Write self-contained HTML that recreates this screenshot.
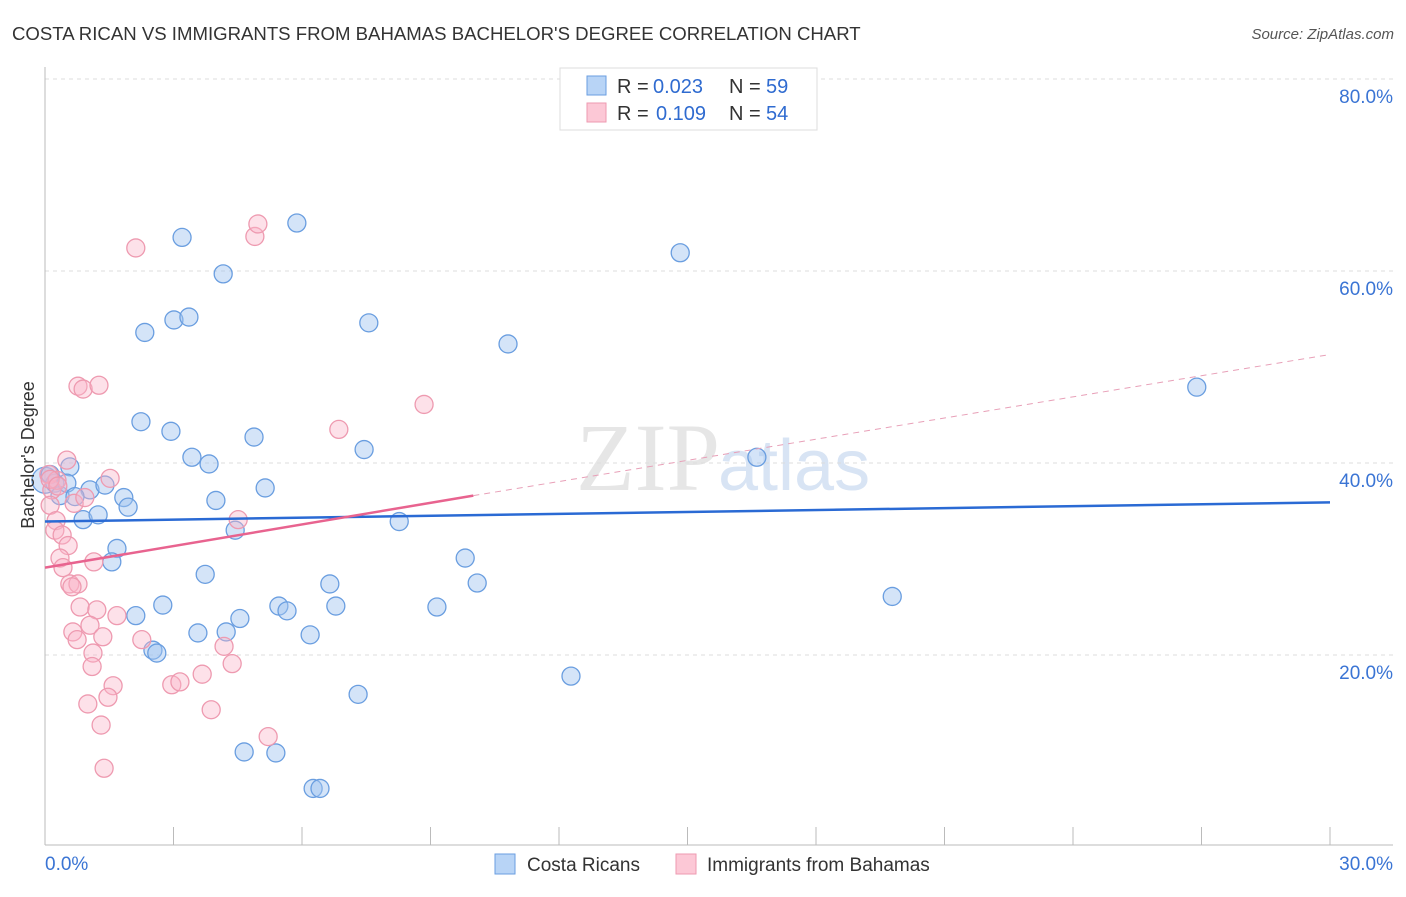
<!DOCTYPE html>
<html><head><meta charset="utf-8"><style>
body{margin:0;background:#fff;font-family:"Liberation Sans",sans-serif}
</style></head><body>
<svg width="1406" height="892" xmlns="http://www.w3.org/2000/svg" font-family="Liberation Sans, sans-serif">
<text x="12" y="40" font-size="18.6" fill="#333">COSTA RICAN VS IMMIGRANTS FROM BAHAMAS BACHELOR'S DEGREE CORRELATION CHART</text>
<text x="1394" y="39" font-size="15" fill="#555" font-style="italic" text-anchor="end">Source: ZipAtlas.com</text>
<text x="720" y="490" font-size="96" fill="#e6e6e6" text-anchor="end" font-family="Liberation Serif, serif">ZIP</text>
<text x="718" y="490" font-size="72" fill="#d8e4f4">atlas</text>
<g id="grid"></g>
<g id="axes"></g>
<g id="pts"></g>
<g id="trend"></g>
<text x="34" y="455" font-size="18" fill="#333" text-anchor="middle" transform="rotate(-90 34 455)">Bachelor's Degree</text>
<g>
<rect x="560" y="68" width="257" height="62" fill="#fff" stroke="#ddd"/>
<rect x="587" y="76" width="19" height="19" fill="#b8d4f6" stroke="#6a9ee0"/>
<rect x="587" y="103" width="19" height="19" fill="#fcc8d6" stroke="#ee9ab0"/>
<text x="617" y="93" font-size="20" fill="#333">R =</text>
<text x="653" y="93" font-size="20" fill="#2f6bd0">0.023</text>
<text x="729" y="93" font-size="20" fill="#333">N =</text>
<text x="766" y="93" font-size="20" fill="#2f6bd0">59</text>
<text x="617" y="120" font-size="20" fill="#333">R =</text>
<text x="656" y="120" font-size="20" fill="#2f6bd0">0.109</text>
<text x="729" y="120" font-size="20" fill="#333">N =</text>
<text x="766" y="120" font-size="20" fill="#2f6bd0">54</text>
</g>
<g>
<rect x="495" y="854" width="20" height="20" fill="#b8d4f6" stroke="#6a9ee0"/>
<text x="527" y="871" font-size="19" fill="#333">Costa Ricans</text>
<rect x="676" y="854" width="20" height="20" fill="#fcc8d6" stroke="#ee9ab0"/>
<text x="707" y="871" font-size="19" fill="#333">Immigrants from Bahamas</text>
</g>
</svg>
<script>
const yTicks=[20,40,60,80];
const yTickLabels=["20.0%","40.0%","60.0%","80.0%"];
const xTickLabels=["0.0%","30.0%"];
const blueX=[0,0.23,0.35,0.58,0.51,1.05,1.4,0.89,1.24,1.84,1.94,1.68,1.56,2.24,2.94,2.33,3.01,3.36,3.2,4.16,5.88,7.56,10.81,14.83,26.89,3.43,3.83,4.88,7.45,5.14,3.99,4.44,8.27,9.81,10.09,6.65,3.74,2.75,2.12,5.46,5.65,6.79,9.15,4.55,4.23,3.57,6.19,2.52,2.61,12.28,7.31,4.65,5.39,6.26,6.42,16.62,19.78,0.12,0.7];
const blueY=[38.2,37.9,36.6,39.6,37.9,37.2,37.7,34.1,34.6,36.4,35.4,31.1,29.7,44.3,43.3,53.6,54.9,55.2,63.5,59.7,65.0,54.6,52.4,61.9,47.9,40.6,39.9,42.7,41.4,37.4,36.1,33.0,33.9,30.1,27.5,27.4,28.4,25.2,24.1,25.1,24.6,25.1,25.0,23.8,22.4,22.3,22.1,20.5,20.2,17.8,15.9,9.9,9.8,6.1,6.1,40.6,26.1,38.8,36.5];
const pinkX=[0.09,0.16,0.28,0.12,0.26,0.51,0.68,0.93,1.52,0.23,0.4,0.54,0.35,0.42,0.58,0.77,0.63,1.14,0.82,1.21,1.68,0.65,0.75,1.05,1.35,2.26,1.12,1.1,4.18,4.37,3.67,2.96,3.15,1.59,1.47,1.0,1.31,3.88,5.21,1.38,2.12,4.9,4.97,0.77,0.89,1.26,6.86,8.85,4.51,0.12,0.3];
const pinkY=[38.8,37.2,38.2,35.6,34.0,40.3,35.8,36.4,38.4,33.0,32.5,31.4,30.1,29.1,27.4,27.4,27.1,29.7,25.0,24.7,24.1,22.4,21.6,23.1,21.9,21.6,20.2,18.8,20.9,19.1,18.0,16.9,17.2,16.8,15.6,14.9,12.7,14.3,11.5,8.2,62.4,63.6,64.9,48.0,47.7,48.1,43.5,46.1,34.1,38.3,37.6];
const blueTrend=[0,33.9,30,35.9];
const pinkSolid=[0,29.1,10,36.6];
const pinkDash=[10,36.6,30,51.3];
const X=v=>45+v*1285/30, Y=v=>847-v*9.6;
const NS="http://www.w3.org/2000/svg";
function mk(t,a,p){const e=document.createElementNS(NS,t);for(const k in a)e.setAttribute(k,a[k]);document.getElementById(p).appendChild(e);return e;}
yTicks.forEach((t,i)=>{
 const l=mk('line',{x1:45,x2:1393,y1:Y(t),y2:Y(t),stroke:'#ddd','stroke-dasharray':'4,4'},'grid');
 
 
 const tx=mk('text',{x:1393,y:Y(t)+24,'font-size':19,fill:'#3a74d4','text-anchor':'end'},'grid');
 tx.textContent=yTickLabels[i];
 
 
});
let a=mk('line',{x1:45,x2:45,y1:67,y2:845,stroke:'#bbb'},'axes');


a=mk('line',{x1:45,x2:1393,y1:845,y2:845,stroke:'#bbb'},'axes');


for(let i=0;i<=10;i++){const t=mk('line',{x1:X(i*3),x2:X(i*3),y1:827,y2:845,stroke:'#bbb'},'axes');
 
 }
[[45,'start',0],[1393,'end',1]].forEach(([x,an,i])=>{const t=mk('text',{x:x,y:870,'font-size':19,fill:'#3a74d4','text-anchor':an},'axes');t.textContent=xTickLabels[i];
 
 });
blueX.forEach((v,i)=>{const c=mk('circle',{cx:X(v),cy:Y(blueY[i]),r:i==0?13:9,fill:'rgba(160,196,240,0.45)',stroke:'#6a9ee0','stroke-width':1.3},'pts');
 
 });
pinkX.forEach((v,i)=>{const c=mk('circle',{cx:X(v),cy:Y(pinkY[i]),r:9,fill:'rgba(250,180,200,0.4)',stroke:'#ee9ab0','stroke-width':1.3},'pts');
 
 });
let t=mk('line',{x1:X(blueTrend[0]),y1:Y(blueTrend[1]),x2:X(blueTrend[2]),y2:Y(blueTrend[3]),stroke:'#2a6ad4','stroke-width':2.5},'trend');


t=mk('line',{x1:X(pinkSolid[0]),y1:Y(pinkSolid[1]),x2:X(pinkSolid[2]),y2:Y(pinkSolid[3]),stroke:'#e8638f','stroke-width':2.5},'trend');


t=mk('line',{x1:X(pinkDash[0]),y1:Y(pinkDash[1]),x2:X(pinkDash[2]),y2:Y(pinkDash[3]),stroke:'#e8a0b8','stroke-width':1,'stroke-dasharray':'6,5'},'trend');


</script>
</body></html>
